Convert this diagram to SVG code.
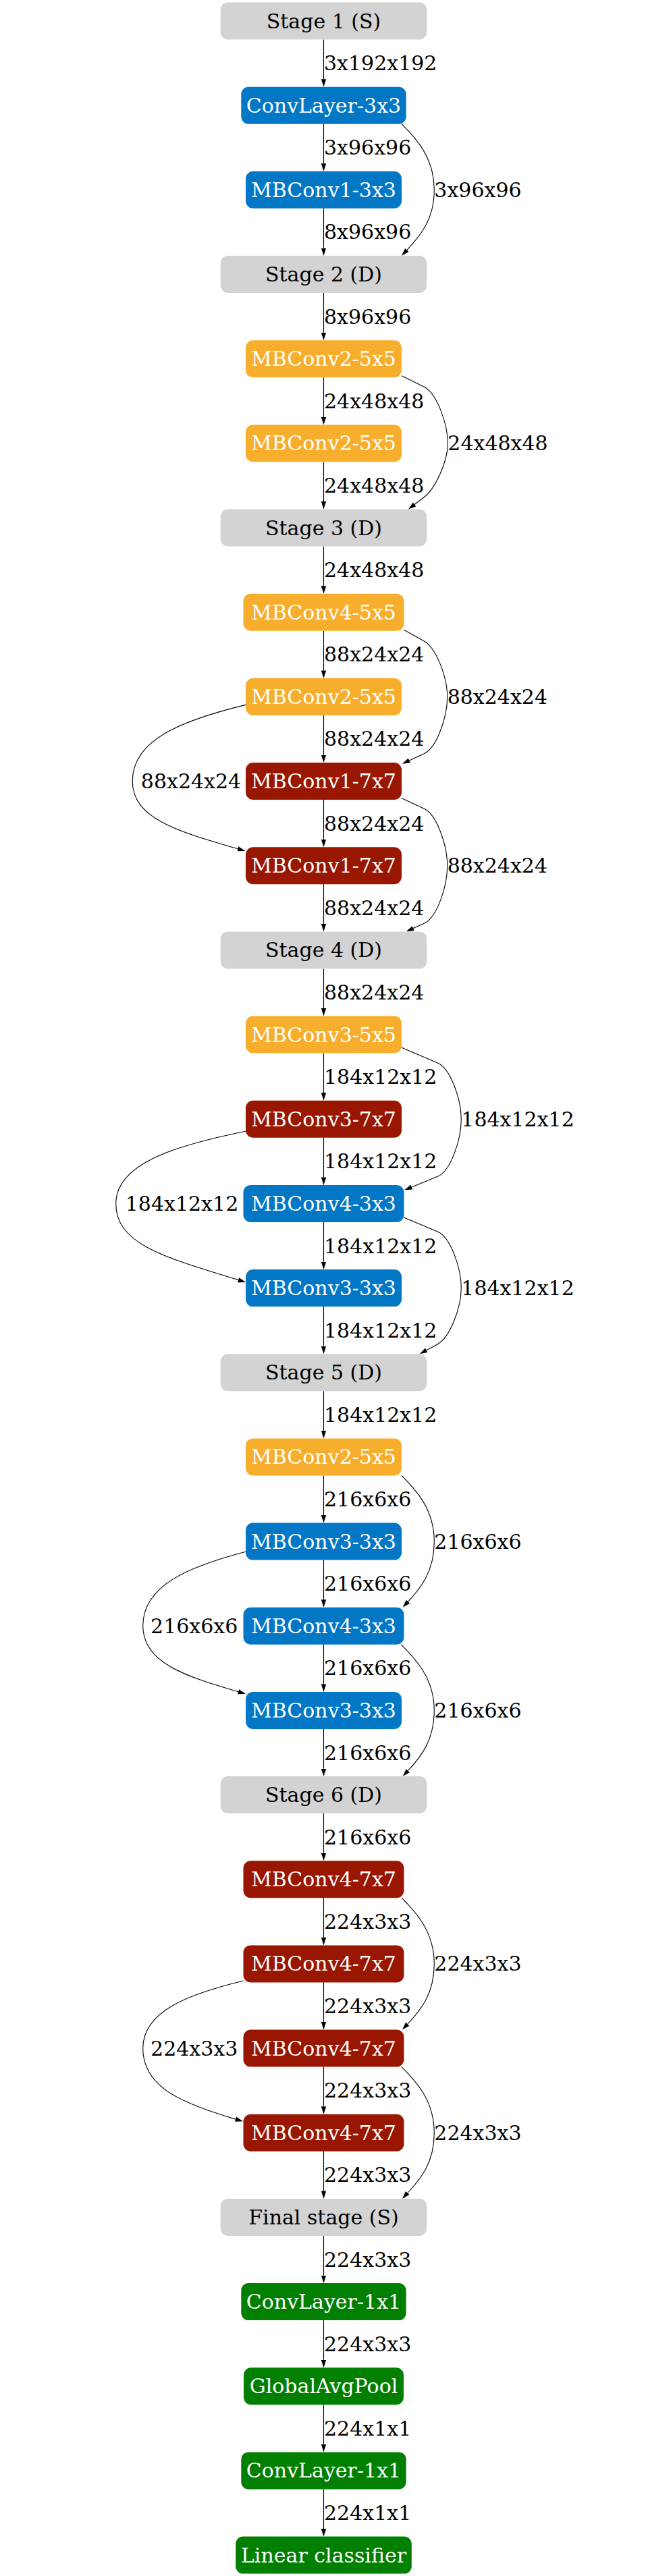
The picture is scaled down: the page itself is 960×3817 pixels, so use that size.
<svg xmlns="http://www.w3.org/2000/svg" width="960" height="3817" viewBox="0 0 960 3817">
<style>
text{font-family:"DejaVu Serif","Liberation Serif",serif;font-size:30px}
.nt{fill:#ffffff;text-anchor:middle}
.st{fill:#000000;text-anchor:middle}
.el{fill:#000000}
.lm{fill:#000000;text-anchor:middle}
.stage{fill:#d3d3d3}
.blue{fill:#0277c5}
.orange{fill:#f7ae2c}
.red{fill:#991600}
.green{fill:#017f01}
.e{fill:none;stroke:#000;stroke-width:1.1;marker-end:url(#ah)}
</style>
<defs>
<marker id="ah" viewBox="0 0 11.5 8" refX="0" refY="4" markerWidth="11.5" markerHeight="8" markerUnits="userSpaceOnUse" orient="auto"><path d="M0,0.3L11.5,4L0,7.7z" fill="#000"/></marker>
</defs>
<rect width="960" height="3817" fill="#fff"/>
<g id="edges">
<path class="e" d="M479.5,58.5V117.2"/>
<path class="e" d="M479.5,183.7V242.3"/>
<path class="e" d="M479.5,308.8V367.5"/>
<path class="e" d="M479.5,434V492.7"/>
<path class="e" d="M479.5,559.2V617.9"/>
<path class="e" d="M479.5,684.4V743"/>
<path class="e" d="M479.5,809.5V868.2"/>
<path class="e" d="M479.5,934.7V993.4"/>
<path class="e" d="M479.5,1059.9V1118.5"/>
<path class="e" d="M479.5,1185V1243.7"/>
<path class="e" d="M479.5,1310.2V1368.9"/>
<path class="e" d="M479.5,1435.4V1494"/>
<path class="e" d="M479.5,1560.5V1619.2"/>
<path class="e" d="M479.5,1685.7V1744.4"/>
<path class="e" d="M479.5,1810.9V1869.6"/>
<path class="e" d="M479.5,1936.1V1994.7"/>
<path class="e" d="M479.5,2061.2V2119.9"/>
<path class="e" d="M479.5,2186.4V2245.1"/>
<path class="e" d="M479.5,2311.6V2370.2"/>
<path class="e" d="M479.5,2436.7V2495.4"/>
<path class="e" d="M479.5,2561.9V2620.6"/>
<path class="e" d="M479.5,2687.1V2745.7"/>
<path class="e" d="M479.5,2812.2V2870.9"/>
<path class="e" d="M479.5,2937.4V2996.1"/>
<path class="e" d="M479.5,3062.6V3121.3"/>
<path class="e" d="M479.5,3187.8V3246.4"/>
<path class="e" d="M479.5,3312.9V3371.6"/>
<path class="e" d="M479.5,3438.1V3496.8"/>
<path class="e" d="M479.5,3563.3V3621.9"/>
<path class="e" d="M479.5,3688.4V3747.1"/>
<path class="e" d="M595,183.7C614.8,203.5 643.3,232.5 643.3,281.3C643.3,326 621.8,350.2 602.8,370.6"/>
<path class="e" d="M595,556.7L628.3,573.3C647,582.6 663.3,627.6 663.3,656.9C663.3,684.8 644.2,724.6 628.3,736.7L614.1,747.5"/>
<path class="e" d="M598.3,933.3L628.3,950C646.3,960 662.7,1003.6 662.7,1032.4C662.7,1061.9 647.4,1107.8 628.3,1116.7L606.4,1126.9"/>
<path class="e" d="M595,1182.7L628.3,1198.3C647.4,1207.2 662.7,1253.2 662.7,1282.7C662.7,1312.7 647.8,1359.4 628.3,1368.3L612.2,1375.6"/>
<path class="e" d="M595,1552.3L648.3,1575C667.4,1583.2 683.3,1629.1 683.3,1658.2C683.3,1688 668,1735.2 648.3,1743.3L609.9,1759"/>
<path class="e" d="M598.3,1804L648.3,1825C667.6,1833.1 683.3,1879.3 683.3,1908.5C683.3,1937.6 666.6,1981.7 648.3,1991.7L631.8,2000.7"/>
<path class="e" d="M595,2186.4C614.8,2206.2 643.3,2235.3 643.3,2284.1C643.3,2328.7 623.5,2352.9 604.5,2373.3"/>
<path class="e" d="M594,2436.7C613.8,2456.5 643.3,2485.6 643.3,2534.4C643.3,2579 623.5,2603.3 604.5,2623.7"/>
<path class="e" d="M595,2812.2C614.8,2832 643.3,2861.1 643.3,2909.9C643.3,2954.6 622.8,2978.8 603.8,2999.2"/>
<path class="e" d="M595,3062.6C614.8,3082.4 643.3,3111.5 643.3,3160.3C643.3,3204.9 622.8,3229.1 603.8,3249.5"/>
<path class="e" d="M364,1044.4C271.7,1067 196.2,1095.3 196.2,1157.5C196.2,1212.7 262.4,1231.6 352.4,1257.8"/>
<path class="e" d="M364,1676.2C258.2,1697.6 171.7,1724.4 171.7,1783.4C171.7,1845.7 249.1,1864 353,1896.6"/>
<path class="e" d="M364,2299.3C280.2,2321.3 211.7,2348.8 211.7,2409.2C211.7,2462.9 271.6,2483.1 353,2506.8"/>
<path class="e" d="M360.7,2935C278.7,2955 211.7,2980.1 211.7,3035.1C211.7,3092.9 269.9,3117 349,3140.1"/>
<text class="el" x="480" y="104.1">3x192x192</text>
<text class="el" x="480" y="229.3">3x96x96</text>
<text class="el" x="480" y="354.4">8x96x96</text>
<text class="el" x="480" y="479.6">8x96x96</text>
<text class="el" x="480" y="604.8">24x48x48</text>
<text class="el" x="480" y="729.9">24x48x48</text>
<text class="el" x="480" y="855.1">24x48x48</text>
<text class="el" x="480" y="980.3">88x24x24</text>
<text class="el" x="480" y="1105.4">88x24x24</text>
<text class="el" x="480" y="1230.6">88x24x24</text>
<text class="el" x="480" y="1355.8">88x24x24</text>
<text class="el" x="480" y="1481">88x24x24</text>
<text class="el" x="480" y="1606.1">184x12x12</text>
<text class="el" x="480" y="1731.3">184x12x12</text>
<text class="el" x="480" y="1856.5">184x12x12</text>
<text class="el" x="480" y="1981.6">184x12x12</text>
<text class="el" x="480" y="2106.8">184x12x12</text>
<text class="el" x="480" y="2232">216x6x6</text>
<text class="el" x="480" y="2357.1">216x6x6</text>
<text class="el" x="480" y="2482.3">216x6x6</text>
<text class="el" x="480" y="2607.5">216x6x6</text>
<text class="el" x="480" y="2732.7">216x6x6</text>
<text class="el" x="480" y="2857.8">224x3x3</text>
<text class="el" x="480" y="2983">224x3x3</text>
<text class="el" x="480" y="3108.2">224x3x3</text>
<text class="el" x="480" y="3233.3">224x3x3</text>
<text class="el" x="480" y="3358.5">224x3x3</text>
<text class="el" x="480" y="3483.7">224x3x3</text>
<text class="el" x="480" y="3608.9">224x1x1</text>
<text class="el" x="480" y="3734">224x1x1</text>
<text class="el" x="643.3" y="291.8">3x96x96</text>
<text class="el" x="663.3" y="667.4">24x48x48</text>
<text class="el" x="662.7" y="1042.9">88x24x24</text>
<text class="el" x="662.7" y="1293.2">88x24x24</text>
<text class="el" x="683.3" y="1668.7">184x12x12</text>
<text class="el" x="683.3" y="1919.1">184x12x12</text>
<text class="el" x="643.3" y="2294.6">216x6x6</text>
<text class="el" x="643.3" y="2544.9">216x6x6</text>
<text class="el" x="643.3" y="2920.4">224x3x3</text>
<text class="el" x="643.3" y="3170.8">224x3x3</text>
<text class="lm" x="283" y="1168">88x24x24</text>
<text class="lm" x="269.5" y="1793.9">184x12x12</text>
<text class="lm" x="287.7" y="2419.7">216x6x6</text>
<text class="lm" x="287.7" y="3045.6">224x3x3</text>
</g>
<g id="n0"><rect class="stage" x="326.7" y="3.5" width="305.6" height="55" rx="11"/><text class="st" x="479.5" y="41.5">Stage 1 (S)</text></g>
<g id="n1"><rect class="blue" x="357.3" y="128.7" width="244.4" height="55" rx="11"/><text class="nt" x="479.5" y="166.7">ConvLayer-3x3</text></g>
<g id="n2"><rect class="blue" x="364" y="253.8" width="231" height="55" rx="11"/><text class="nt" x="479.5" y="291.8">MBConv1-3x3</text></g>
<g id="n3"><rect class="stage" x="326.7" y="379" width="305.6" height="55" rx="11"/><text class="st" x="479.5" y="417">Stage 2 (D)</text></g>
<g id="n4"><rect class="orange" x="364" y="504.2" width="231" height="55" rx="11"/><text class="nt" x="479.5" y="542.2">MBConv2-5x5</text></g>
<g id="n5"><rect class="orange" x="364" y="629.4" width="231" height="55" rx="11"/><text class="nt" x="479.5" y="667.4">MBConv2-5x5</text></g>
<g id="n6"><rect class="stage" x="326.7" y="754.5" width="305.6" height="55" rx="11"/><text class="st" x="479.5" y="792.5">Stage 3 (D)</text></g>
<g id="n7"><rect class="orange" x="360.5" y="879.7" width="238" height="55" rx="11"/><text class="nt" x="479.5" y="917.7">MBConv4-5x5</text></g>
<g id="n8"><rect class="orange" x="364" y="1004.9" width="231" height="55" rx="11"/><text class="nt" x="479.5" y="1042.9">MBConv2-5x5</text></g>
<g id="n9"><rect class="red" x="364" y="1130" width="231" height="55" rx="11"/><text class="nt" x="479.5" y="1168">MBConv1-7x7</text></g>
<g id="n10"><rect class="red" x="364" y="1255.2" width="231" height="55" rx="11"/><text class="nt" x="479.5" y="1293.2">MBConv1-7x7</text></g>
<g id="n11"><rect class="stage" x="326.7" y="1380.4" width="305.6" height="55" rx="11"/><text class="st" x="479.5" y="1418.4">Stage 4 (D)</text></g>
<g id="n12"><rect class="orange" x="364" y="1505.5" width="231" height="55" rx="11"/><text class="nt" x="479.5" y="1543.5">MBConv3-5x5</text></g>
<g id="n13"><rect class="red" x="364" y="1630.7" width="231" height="55" rx="11"/><text class="nt" x="479.5" y="1668.7">MBConv3-7x7</text></g>
<g id="n14"><rect class="blue" x="360.5" y="1755.9" width="238" height="55" rx="11"/><text class="nt" x="479.5" y="1793.9">MBConv4-3x3</text></g>
<g id="n15"><rect class="blue" x="364" y="1881.1" width="231" height="55" rx="11"/><text class="nt" x="479.5" y="1919.1">MBConv3-3x3</text></g>
<g id="n16"><rect class="stage" x="326.7" y="2006.2" width="305.6" height="55" rx="11"/><text class="st" x="479.5" y="2044.2">Stage 5 (D)</text></g>
<g id="n17"><rect class="orange" x="364" y="2131.4" width="231" height="55" rx="11"/><text class="nt" x="479.5" y="2169.4">MBConv2-5x5</text></g>
<g id="n18"><rect class="blue" x="364" y="2256.6" width="231" height="55" rx="11"/><text class="nt" x="479.5" y="2294.6">MBConv3-3x3</text></g>
<g id="n19"><rect class="blue" x="360.5" y="2381.7" width="238" height="55" rx="11"/><text class="nt" x="479.5" y="2419.7">MBConv4-3x3</text></g>
<g id="n20"><rect class="blue" x="364" y="2506.9" width="231" height="55" rx="11"/><text class="nt" x="479.5" y="2544.9">MBConv3-3x3</text></g>
<g id="n21"><rect class="stage" x="326.7" y="2632.1" width="305.6" height="55" rx="11"/><text class="st" x="479.5" y="2670.1">Stage 6 (D)</text></g>
<g id="n22"><rect class="red" x="360.5" y="2757.2" width="238" height="55" rx="11"/><text class="nt" x="479.5" y="2795.2">MBConv4-7x7</text></g>
<g id="n23"><rect class="red" x="360.5" y="2882.4" width="238" height="55" rx="11"/><text class="nt" x="479.5" y="2920.4">MBConv4-7x7</text></g>
<g id="n24"><rect class="red" x="360.5" y="3007.6" width="238" height="55" rx="11"/><text class="nt" x="479.5" y="3045.6">MBConv4-7x7</text></g>
<g id="n25"><rect class="red" x="360.5" y="3132.8" width="238" height="55" rx="11"/><text class="nt" x="479.5" y="3170.8">MBConv4-7x7</text></g>
<g id="n26"><rect class="stage" x="326.7" y="3257.9" width="305.6" height="55" rx="11"/><text class="st" x="479.5" y="3295.9">Final stage (S)</text></g>
<g id="n27"><rect class="green" x="357.3" y="3383.1" width="244.4" height="55" rx="11"/><text class="nt" x="479.5" y="3421.1">ConvLayer-1x1</text></g>
<g id="n28"><rect class="green" x="361" y="3508.3" width="237" height="55" rx="11"/><text class="nt" x="479.5" y="3546.3">GlobalAvgPool</text></g>
<g id="n29"><rect class="green" x="357.3" y="3633.4" width="244.4" height="55" rx="11"/><text class="nt" x="479.5" y="3671.4">ConvLayer-1x1</text></g>
<g id="n30"><rect class="green" x="349.2" y="3758.6" width="260.6" height="55" rx="11"/><text class="nt" x="479.5" y="3796.6">Linear classifier</text></g>
</svg>
